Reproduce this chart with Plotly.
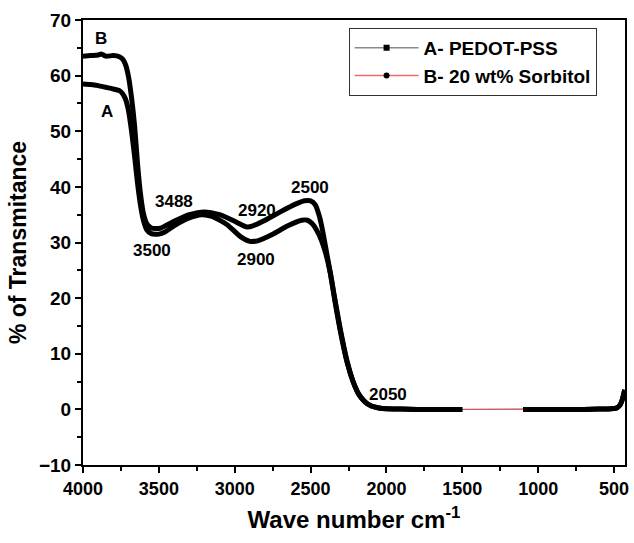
import numpy as np
import plotly.graph_objects as go

# ---- data ----
wave_B = [4000, 3950, 3900, 3880, 3850, 3800, 3760, 3740, 3720, 3700, 3680, 3660, 3640, 3620, 3600,
          3580, 3550, 3520, 3488, 3450, 3400, 3300, 3200, 3100, 3000, 2950, 2920, 2880, 2800, 2700,
          2600, 2540, 2500, 2470, 2440, 2420, 2400, 2370, 2340, 2300, 2260, 2220, 2180, 2140, 2100,
          2050, 2000, 1900, 1800, 1700, 1600, 1500, 1300, 1100, 1000, 900, 800, 700, 600, 520, 480,
          460, 445, 430]
trans_B = [63.5, 63.6, 63.7, 63.9, 63.5, 63.6, 63.4, 63.0, 62.0, 59.8, 56.0, 51.0, 44.0, 38.5, 35.0,
           33.4, 32.6, 32.5, 32.6, 33.1, 33.8, 35.0, 35.5, 35.0, 33.8, 33.1, 32.8, 33.0, 34.0, 35.5,
           36.9, 37.5, 37.5, 36.8, 34.5, 32.0, 29.0, 24.5, 19.5, 13.5, 8.5, 5.0, 2.6, 1.3, 0.6,
           0.25, 0.1, 0.05, 0.0, 0.0, 0.0, 0.0, 0.0, 0.0, 0.0, 0.0, 0.0, 0.0, 0.05, 0.1, 0.3,
           0.8, 1.8, 3.5]

wave_A = [4000, 3950, 3900, 3850, 3800, 3760, 3740, 3720, 3700, 3680, 3660, 3640, 3620, 3600, 3580,
          3550, 3520, 3500, 3460, 3400, 3300, 3220, 3150, 3050, 2960, 2900, 2850, 2750, 2650, 2560,
          2520, 2490, 2460, 2430, 2400, 2370, 2340, 2300, 2260, 2220, 2180, 2140, 2100, 2050, 2000,
          1900, 1800, 1700, 1600, 1500, 1300, 1100, 1000, 900, 800, 700, 600, 520, 480, 460, 445, 430]
trans_A = [58.5, 58.4, 58.2, 57.9, 57.6, 57.3, 56.8, 55.8, 53.7, 50.0, 45.5, 40.5, 36.5, 33.8, 32.3,
           31.6, 31.5, 31.5, 31.9, 33.0, 34.4, 35.0, 34.7, 33.2, 31.0, 30.2, 30.3, 31.5, 33.0, 34.0,
           34.0, 33.4, 32.2, 30.5, 28.0, 24.5, 19.8, 13.8, 8.7, 5.0, 2.6, 1.3, 0.6, 0.25, 0.1,
           0.05, 0.0, 0.0, 0.0, 0.0, 0.0, 0.0, 0.0, 0.0, 0.0, 0.0, 0.05, 0.1, 0.3, 0.8, 1.8, 3.5]

labels_text = ["B", "A", "3488", "3500", "2920", "2900", "2500", "2050"]
labels_x = [3882, 3843, 3398, 3542, 2855, 2862, 2502, 1992]
labels_y = [66.6, 53.5, 37.3, 28.5, 35.7, 26.9, 39.8, 2.6]

gap_lo, gap_hi = 1100, 1500  # region where only the thin line is visible

FONT = "Liberation Sans, Arial, sans-serif"


def marker_part(w, t):
    w = np.array(w, dtype=float)
    t = np.array(t, dtype=object)
    mask = (w > gap_lo) & (w < gap_hi)
    t = t.copy()
    t[mask] = None
    return w, t


fig = go.Figure()

# thin coloured lines (full range)
fig.add_trace(go.Scatter(x=wave_A, y=trans_A, mode="lines", line=dict(color="#7f7f7f", width=1),
                         showlegend=False, hoverinfo="skip"))
fig.add_trace(go.Scatter(x=wave_B, y=trans_B, mode="lines", line=dict(color="#e8474f", width=1),
                         showlegend=False, hoverinfo="skip"))

# dense black markers, drawn as thick black strokes
for w, t in (marker_part(wave_A, trans_A), marker_part(wave_B, trans_B)):
    fig.add_trace(go.Scatter(x=w, y=t, mode="lines", connectgaps=False,
                             line=dict(color="black", width=5, shape="spline", smoothing=0.6),
                             showlegend=False, hoverinfo="skip"))

# legend entries
fig.add_trace(go.Scatter(x=[None], y=[None], mode="lines+markers", name="A- PEDOT-PSS",
                         line=dict(color="#8a8a8a", width=1.5),
                         marker=dict(symbol="square", color="black", size=6)))
fig.add_trace(go.Scatter(x=[None], y=[None], mode="lines+markers", name="B- 20 wt% Sorbitol",
                         line=dict(color="#f26b6b", width=1.5),
                         marker=dict(symbol="circle", color="black", size=6)))

for txt, lx, ly in zip(labels_text, labels_x, labels_y):
    fig.add_annotation(x=lx, y=ly, text=txt, showarrow=False,
                       font=dict(family=FONT, size=17, color="black", weight=700))

axis_common = dict(showline=True, linecolor="black", linewidth=2, mirror=True,
                   ticks="outside", tickwidth=2, ticklen=6, tickcolor="black",
                   showgrid=False, zeroline=False)

fig.update_xaxes(range=[4000, 428], tickmode="array",
                 tickvals=[4000, 3500, 3000, 2500, 2000, 1500, 1000, 500],
                 tickfont=dict(family=FONT, size=18, color="black", weight=700),
                 minor=dict(ticks="outside", tickvals=[3750, 3250, 2750, 2250, 1750, 1250, 750],
                            ticklen=4, tickwidth=2, tickcolor="black"),
                 title=dict(text="Wave number cm<sup>-1</sup>", standoff=14,
                            font=dict(family=FONT, size=24, color="black", weight=700)),
                 **axis_common)
fig.update_yaxes(range=[-10, 70], tickmode="array",
                 tickvals=[-10, 0, 10, 20, 30, 40, 50, 60, 70],
                 tickfont=dict(family=FONT, size=19, color="black", weight=700),
                 minor=dict(ticks="outside", dtick=5, ticklen=4, tickwidth=2, tickcolor="black"),
                 title=dict(text="% of Transmitance", standoff=6,
                            font=dict(family=FONT, size=23, color="black", weight=700)),
                 **axis_common)

fig.update_layout(
    width=634, height=543,
    margin=dict(l=83, r=5, t=20, b=78),
    paper_bgcolor="white", plot_bgcolor="white",
    legend=dict(x=0.49, y=0.982, xanchor="left", yanchor="top",
                bordercolor="#333333", borderwidth=1, bgcolor="white",
                font=dict(family=FONT, size=19, color="black", weight=700),
                itemwidth=64, tracegroupgap=0),
)

fig.write_html("out.html")
